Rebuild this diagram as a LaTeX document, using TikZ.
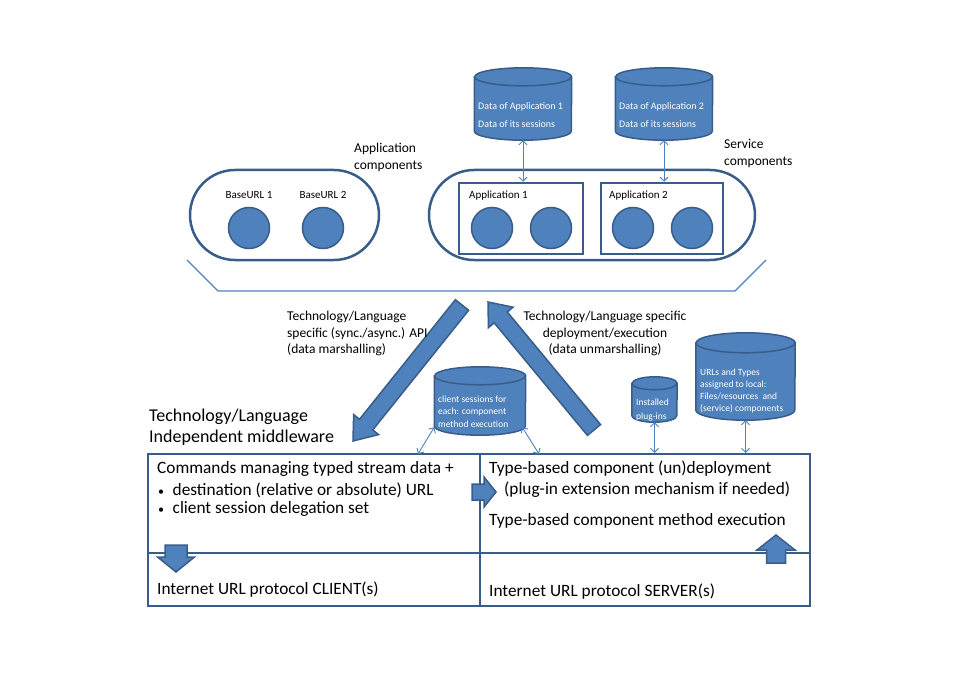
\documentclass[tikz,border=0pt]{standalone}
\usepackage{fontspec}
\setmainfont{Carlito}
\usepackage{xcolor}
\usetikzlibrary{arrows.meta, calc, positioning}

\definecolor{fillblue}{HTML}{4F81BD}
\definecolor{lineblue}{HTML}{385D8A}

% name, centre, width, height, y radius of the end ellipse
\newcommand\dbcyl[5]{%
  \node[minimum width=#3pt, minimum height=#4pt, inner sep=0pt] (#1) at (#2) {};
  \draw[dbshape] ([yshift=-#5pt]#1.north west) -- ([yshift=#5pt]#1.south west)
    arc[start angle=180, end angle=360, x radius=#3pt/2, y radius=#5pt]
    -- ([yshift=-#5pt]#1.north east)
    arc[start angle=0, end angle=180, x radius=#3pt/2, y radius=#5pt] -- cycle;
  \draw[dbshape, fill=none] ([yshift=-#5pt]#1.north west)
    arc[start angle=180, end angle=360, x radius=#3pt/2, y radius=#5pt];
}
% name, tail, tip, half shaft, half head, head length
\newcommand\blockarrow[6]{%
  \coordinate (#1-tail) at (#2);
  \coordinate (#1-tip) at (#3);
  \coordinate (#1-base) at ($(#1-tip)!#6!(#1-tail)$);
  \draw[barrow] ($(#1-tail)!#4!90:(#1-tip)$) -- ($(#1-base)!#4!90:(#1-tip)$)
    -- ($(#1-base)!#5!90:(#1-tip)$) -- (#1-tip) -- ($(#1-base)!#5!-90:(#1-tip)$)
    -- ($(#1-base)!#4!-90:(#1-tip)$) -- ($(#1-tail)!#4!-90:(#1-tip)$) -- cycle;
}

\begin{document}
\begin{tikzpicture}[x=1pt, y=-1pt,
    dbshape/.style={draw=lineblue, fill=fillblue, line width=1.5pt},
    dbtext/.style={text=white, align=left, anchor=west, inner sep=0pt},
    comp/.style={circle, draw=lineblue, fill=fillblue, line width=1.5pt, minimum size=41pt, inner sep=0pt},
    pill/.style={draw=lineblue, line width=2.5pt, rounded corners=45pt, inner sep=0pt},
    appbox/.style={draw=lineblue, line width=2.5pt, inner sep=0pt},
    cell/.style={draw=lineblue, line width=2pt, inner sep=0pt},
    barrow/.style={draw=lineblue, fill=fillblue, line width=1.5pt, line join=miter},
    link/.style={draw=fillblue, line width=0.9pt, {Straight Barb[length=4pt,width=8pt]}-{Straight Barb[length=4pt,width=8pt]}},
    txt/.style={anchor=west, align=left, inner sep=0pt},
    small/.style={font=\fontsize{11}{13}\selectfont},
    mid/.style={font=\fontsize{13.5}{16.5}\selectfont},
    big/.style={font=\fontsize{17.3}{21}\selectfont},
  ]
\useasboundingbox (0,0) rectangle (954,674);

% application and service components
\node[pill, minimum width=189pt, minimum height=90pt] (apps) at (284.5,215) {};
\node[pill, minimum width=326pt, minimum height=90pt] (svcs) at (592,215) {};
\node[appbox, minimum width=124pt, minimum height=71pt] (app1) at (521,218.5) {};
\node[appbox, minimum width=122pt, minimum height=71pt] (app2) at (662,218.5) {};

\node[comp] (url1) at (249,228) {};
\node[comp] (url2) at (323,228) {};
\node[comp] (a1c1) at (492,228) {};
\node[comp] (a1c2) at (551,228) {};
\node[comp] (a2c1) at (633,228) {};
\node[comp] (a2c2) at (692,228) {};

\node[small, inner sep=0pt] (url1l) at (249,195) {BaseURL 1};
\node[small, inner sep=0pt] (url2l) at (323,195) {BaseURL 2};
\node[txt, small] (app1l) at (469,196) {Application 1};
\node[txt, small] (app2l) at (609,196) {Application 2};

\node[txt, mid] (appc) at (354,157.5) {Application\\components};
\node[txt, mid] (svcc) at (724,153.5) {Service\\components};

% application data
\dbcyl{db1}{523,104}{97}{72}{9}
\dbcyl{db2}{664,104}{97}{72}{9}
\node[dbtext, font=\fontsize{10}{18}\selectfont] (db1t) at (478,115) {Data of Application 1\\Data of its sessions};
\node[dbtext, font=\fontsize{10}{18}\selectfont] (db2t) at (619,115) {Data of Application 2\\Data of its sessions};
\draw[link] (db1.south) -- (db1.south |- app1.north);
\draw[link] (db2.south) -- (db2.south |- app2.north);

\draw[fillblue, line width=1.3pt] (187,260) -- (218,291) -- (735,291) -- (766,260);

% marshalling arrows
\blockarrow{api}{462,305}{353,441}{8.5pt}{16pt}{21pt}
\blockarrow{deploy}{594,430}{488,302}{8.5pt}{16pt}{20pt}
\node[txt, mid] (apil) at (287,333.5) {Technology/Language\\specific (sync./async.) API\\(data marshalling)};
\node[mid, align=center, inner sep=0pt] (depl) at (605,333.5) {Technology/Language specific\\deployment/execution\\(data unmarshalling)};

% middleware stores
\dbcyl{sess}{480,401}{91}{68}{9}
\node[dbtext, font=\fontsize{9.5}{12.5}\selectfont] (sesst) at (438,411.5) {client sessions for\\each: component\\method execution};
\dbcyl{plug}{654.5,399.5}{45}{45}{6.5}
\node[dbtext, font=\fontsize{9.5}{14}\selectfont] (plugt) at (636,410) {Installed\\plug-ins};
\dbcyl{urls}{745.5,376.5}{99}{87}{10}
\node[dbtext, font=\fontsize{9.5}{12}\selectfont] (urlst) at (700,391) {URLs and Types\\assigned to local:\\Files/resources\ \ and\\(service) components};

\node[txt, font=\fontsize{18}{21}\selectfont] (mwl) at (149,427.5) {Technology/Language\\Independent middleware};

% middleware layers
\node[cell, minimum width=332pt, minimum height=99pt] (cmd) at (314,503.5) {};
\node[cell, minimum width=330pt, minimum height=99pt] (dep) at (645,503.5) {};
\node[cell, minimum width=332pt, minimum height=53pt] (cli) at (314,579.5) {};
\node[cell, minimum width=330pt, minimum height=53pt] (srv) at (645,579.5) {};

\coordinate (sessl) at (418,454);
\coordinate (sessr) at (539,454);
\draw[link] ([yshift=8pt]sess.south west) -- (sessl);
\draw[link] ([xshift=-3.5pt, yshift=8pt]sess.south east) -- (sessr);
\draw[link] (plug.south) -- (plug.south |- dep.north);
\draw[link] (urls.south) -- (urls.south |- dep.north);

\node[txt, big] (cmd1) at (157,469) {Commands managing typed stream data +};
\node[txt, big] (cmd2) at (158,490) {\makebox[14.5pt][l]{\fontsize{12}{12}\selectfont•}destination (relative or absolute) URL};
\node[txt, big] (cmd3) at (158,509) {\makebox[14.5pt][l]{\fontsize{12}{12}\selectfont•}client session delegation set};
\node[txt, big] (dep1) at (489,469) {Type-based component (un)deployment};
\node[txt, big] (dep2) at (504,490) {(plug-in extension mechanism if needed)};
\node[txt, big] (dep3) at (489,521) {Type-based component method execution};
\node[txt, big] (cli1) at (157,590) {Internet URL protocol CLIENT(s)};
\node[txt, big] (srv1) at (489,592) {Internet URL protocol SERVER(s)};

\blockarrow{handoff}{472,492}{496,492}{8pt}{15pt}{12pt}
\blockarrow{send}{176,545}{176,572}{11pt}{18.5pt}{15pt}
\blockarrow{recv}{776,563}{776,535}{9.5pt}{19pt}{15pt}
\end{tikzpicture}
\end{document}
